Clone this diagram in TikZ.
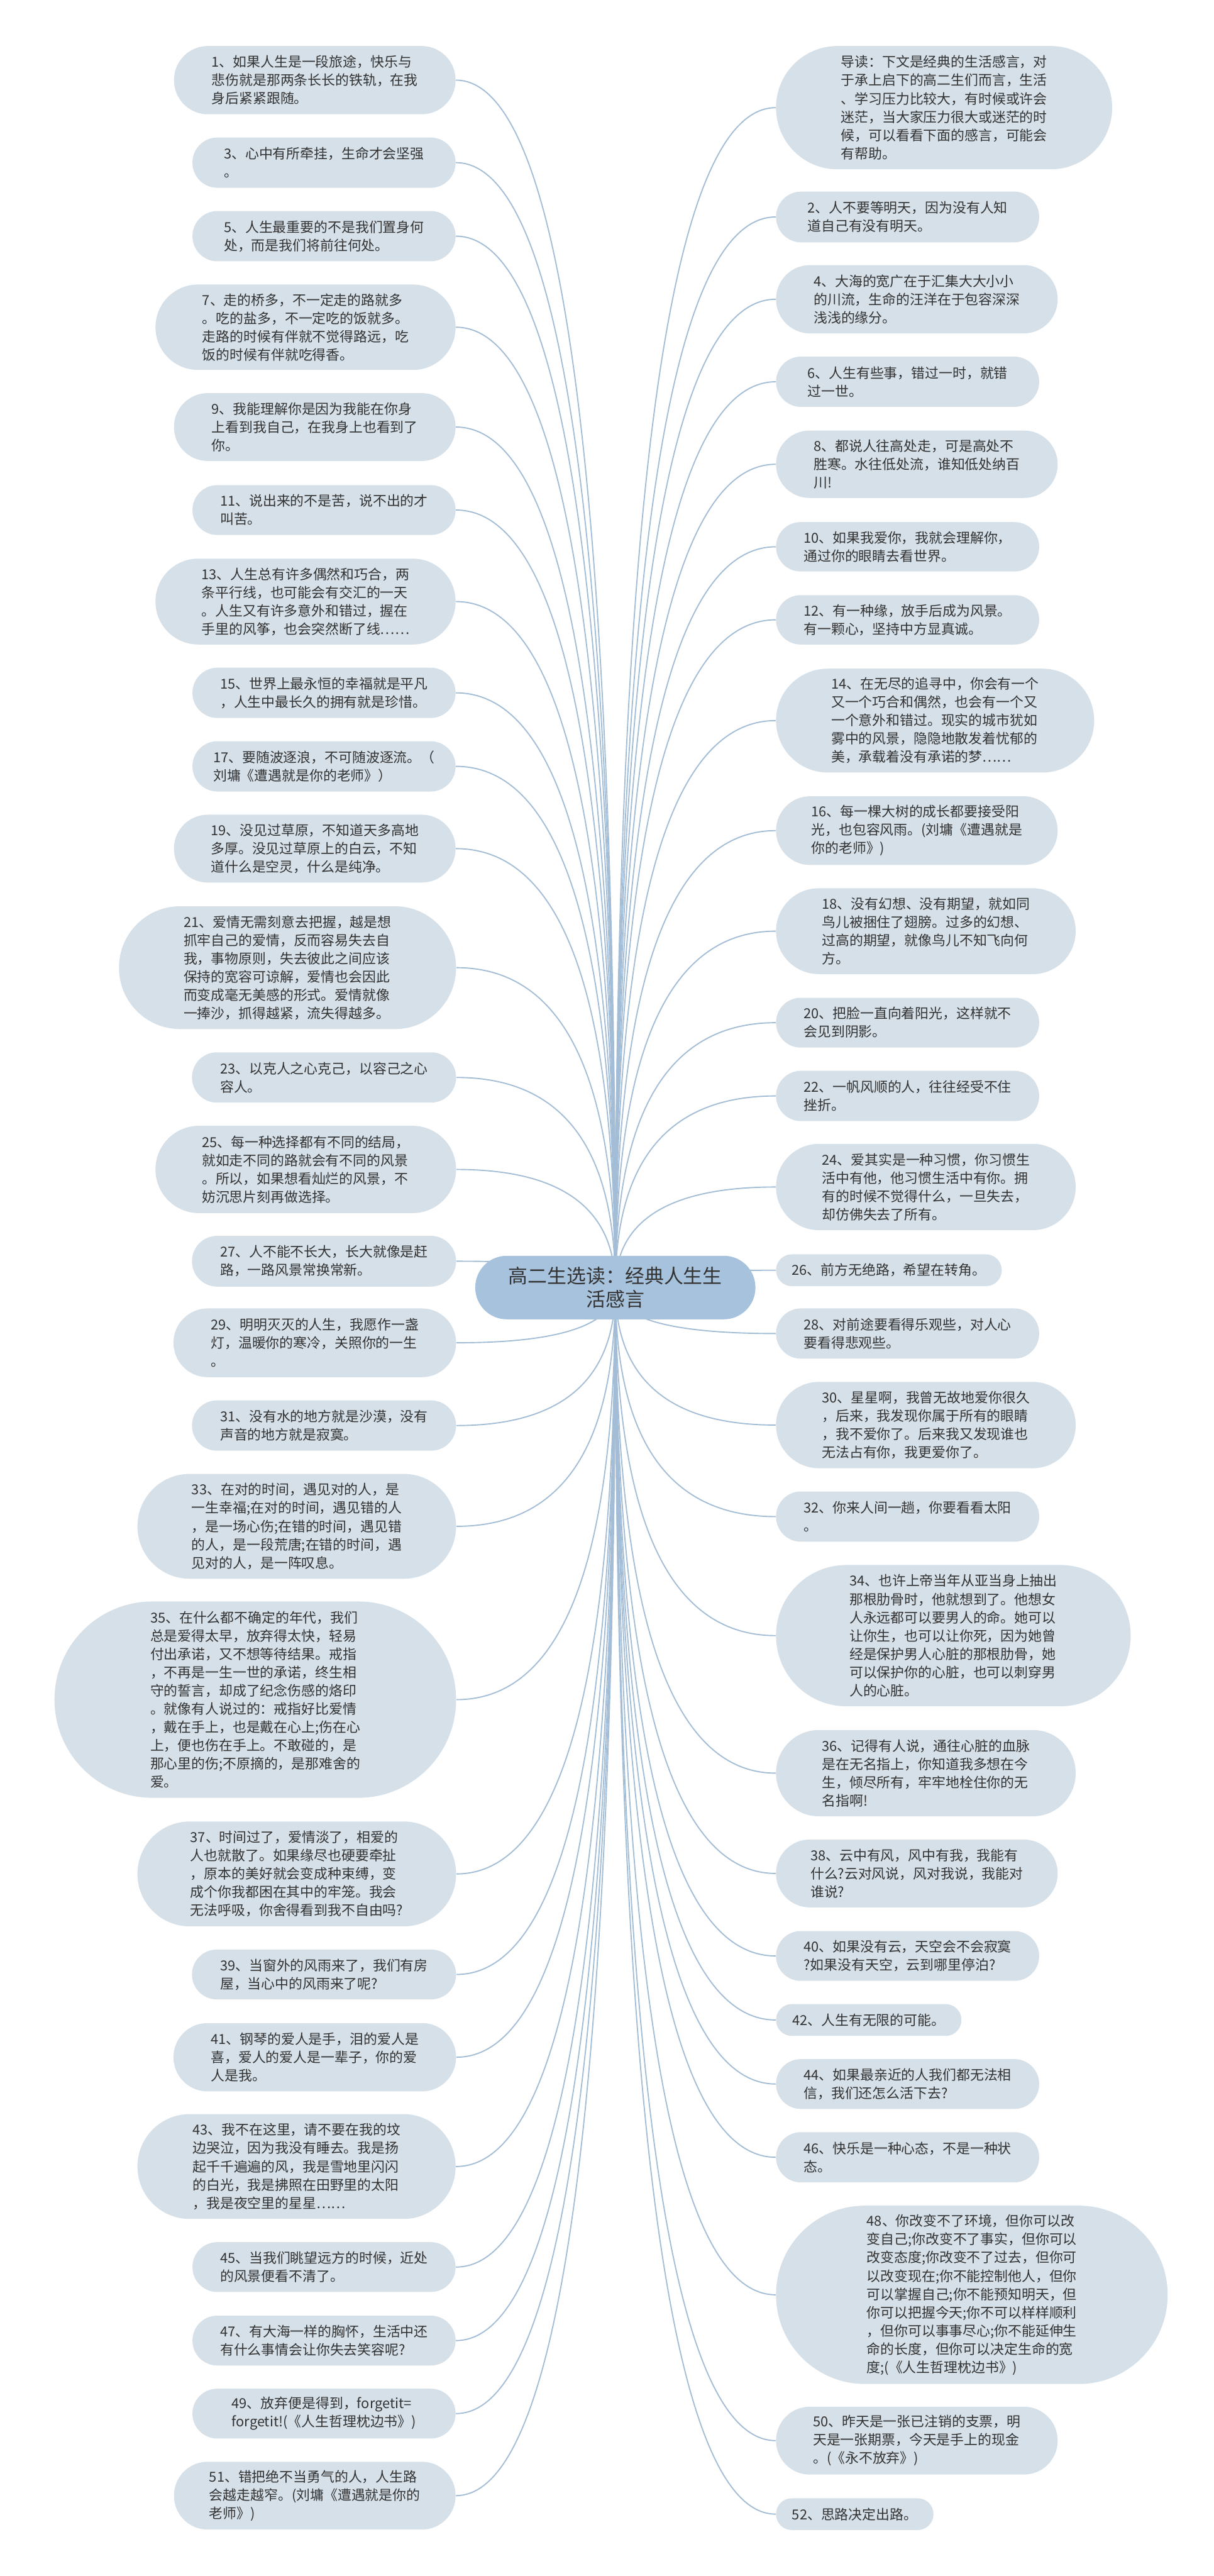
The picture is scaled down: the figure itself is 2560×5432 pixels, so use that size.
\documentclass[tikz,border=0pt]{standalone}
\usepackage{fontspec}
\newfontfamily\cjk{Noto Sans CJK SC}
\usetikzlibrary{backgrounds}
\definecolor{leaffill}{HTML}{D5E0E9}
\definecolor{rootfill}{HTML}{A7C2DD}
\definecolor{conncol}{HTML}{A3BDD6}
\definecolor{txtcol}{HTML}{333333}
\tikzset{
  leaf/.style={fill=leaffill, draw=none, inner sep=0pt, align=left, text=txtcol,
    font={\cjk\fontsize{8.7}{11.55}\selectfont}},
  rootbox/.style={fill=rootfill, draw=none, inner sep=0pt, align=center, text=txtcol,
    font={\cjk\fontsize{12.3}{15}\selectfont}},
  conn/.style={draw=conncol, line width=0.75pt}
}
\newcommand\leafbox[6]{%
  \pgfmathsetmacro\lbx{(#2+#4)/2}%
  \pgfmathsetmacro\lby{(#3+#5)/2}%
  \pgfmathsetmacro\lbw{(#4-#2)*0.3}%
  \pgfmathsetmacro\lbh{(#5-#3)*0.3}%
  \pgfmathsetmacro\lbr{(#5-#3)*0.15-0.1}%
  \node[leaf, minimum width=\lbw pt, minimum height=\lbh pt, rounded corners=\lbr pt] (#1) at (\lbx,\lby) {#6};%
}
\newcommand\conn[3]{%
  \pgfmathsetmacro\cpay{2715+0.6667*(#3-2715)}%
  \pgfmathsetmacro\cpbx{#2+0.6667*(1298-#2)}%
  \draw[conn] (root.center) .. controls (1298,\cpay) and (\cpbx,#3) .. (#1);%
}
\begin{document}
\begin{tikzpicture}[x=0.3pt,y=-0.3pt]
\useasboundingbox (0,0) rectangle (2560,5432);

\node[rootbox, minimum width=177.3pt, minimum height=40.2pt, rounded corners=20pt] (root) at (1298,2715) {高二生选读：经典人生生\\活感言};

% left column
\leafbox{n1}{367}{97}{961}{241}{1、如果人生是一段旅途，快乐与\\悲伤就是那两条长长的铁轨，在我\\身后紧紧跟随。}
\leafbox{n3}{406}{290}{961}{396}{3、心中有所牵挂，生命才会坚强\\。}
\leafbox{n5}{406}{445}{961}{551}{5、人生最重要的不是我们置身何\\处，而是我们将前往何处。}
\leafbox{n7}{328}{600}{961}{780}{7、走的桥多，不一定走的路就多\\。吃的盐多，不一定吃的饭就多。\\走路的时候有伴就不觉得路远，吃\\饭的时候有伴就吃得香。}
\leafbox{n9}{367}{829}{961}{972}{9、我能理解你是因为我能在你身\\上看到我自己，在我身上也看到了\\你。}
\leafbox{n11}{406}{1023}{961}{1128}{11、说出来的不是苦，说不出的才\\叫苦。}
\leafbox{n13}{328}{1178}{961}{1359}{13、人生总有许多偶然和巧合，两\\条平行线，也可能会有交汇的一天\\。人生又有许多意外和错过，握在\\手里的风筝，也会突然断了线……}
\leafbox{n15}{406}{1408}{961}{1514}{15、世界上最永恒的幸福就是平凡\\，人生中最长久的拥有就是珍惜。}
\leafbox{n17}{406}{1563}{961}{1669}{17、要随波逐浪，不可随波逐流。（\\刘墉《遭遇就是你的老师》）}
\leafbox{n19}{367}{1718}{961}{1861}{19、没见过草原，不知道天多高地\\多厚。没见过草原上的白云，不知\\道什么是空灵，什么是纯净。}
\leafbox{n21}{251}{1911}{962}{2170}{21、爱情无需刻意去把握，越是想\\抓牢自己的爱情，反而容易失去自\\我，事物原则，失去彼此之间应该\\保持的宽容可谅解，爱情也会因此\\而变成毫无美感的形式。爱情就像\\一捧沙，抓得越紧，流失得越多。}
\leafbox{n23}{405}{2219}{962}{2325}{23、以克人之心克己，以容己之心\\容人。}
\leafbox{n25}{328}{2374}{962}{2558}{25、每一种选择都有不同的结局，\\就如走不同的路就会有不同的风景\\。所以，如果想看灿烂的风景，不\\妨沉思片刻再做选择。}
\leafbox{n27}{405}{2606}{962}{2713}{27、人不能不长大，长大就像是赶\\路，一路风景常换常新。}
\leafbox{n29}{366}{2759}{962}{2904}{29、明明灭灭的人生，我愿作一盏\\灯，温暖你的寒冷，关照你的一生\\。}
\leafbox{n31}{405}{2953}{962}{3059}{31、没有水的地方就是沙漠，没有\\声音的地方就是寂寞。}
\leafbox{n33}{290}{3108}{962}{3329}{33、在对的时间，遇见对的人，是\\一生幸福;在对的时间，遇见错的人\\，是一场心伤;在错的时间，遇见错\\的人，是一段荒唐;在错的时间，遇\\见对的人，是一阵叹息。}
\leafbox{n35}{115}{3377}{962}{3791}{35、在什么都不确定的年代，我们\\总是爱得太早，放弃得太快，轻易\\付出承诺，又不想等待结果。戒指\\，不再是一生一世的承诺，终生相\\守的誓言，却成了纪念伤感的烙印\\。就像有人说过的：戒指好比爱情\\，戴在手上，也是戴在心上;伤在心\\上，便也伤在手上。不敢碰的，是\\那心里的伤;不原摘的，是那难舍的\\爱。}
\leafbox{n37}{290}{3841}{962}{4062}{37、时间过了，爱情淡了，相爱的\\人也就散了。如果缘尽也硬要牵扯\\，原本的美好就会变成种束缚，变\\成个你我都困在其中的牢笼。我会\\无法呼吸，你舍得看到我不自由吗?}
\leafbox{n39}{405}{4111}{962}{4216}{39、当窗外的风雨来了，我们有房\\屋，当心中的风雨来了呢?}
\leafbox{n41}{366}{4266}{962}{4410}{41、钢琴的爱人是手，泪的爱人是\\喜，爱人的爱人是一辈子，你的爱\\人是我。}
\leafbox{n43}{290}{4458}{961}{4679}{43、我不在这里，请不要在我的坟\\边哭泣，因为我没有睡去。我是扬\\起千千遍遍的风，我是雪地里闪闪\\的白光，我是拂照在田野里的太阳\\，我是夜空里的星星……}
\leafbox{n45}{406}{4728}{961}{4833}{45、当我们眺望远方的时候，近处\\的风景便看不清了。}
\leafbox{n47}{406}{4883}{961}{4988}{47、有大海一样的胸怀，生活中还\\有什么事情会让你失去笑容呢?}
\leafbox{n49}{406}{5037}{961}{5142}{49、放弃便是得到，forgetit=\\forgetit!(《人生哲理枕边书》)}
\leafbox{n51}{367}{5191}{961}{5334}{51、错把绝不当勇气的人，人生路\\会越走越窄。(刘墉《遭遇就是你的\\老师》)}

% right column
\leafbox{intro}{1637}{97}{2346}{357}{导读：下文是经典的生活感言，对\\于承上启下的高二生们而言，生活\\、学习压力比较大，有时候或许会\\迷茫，当大家压力很大或迷茫的时\\候，可以看看下面的感言，可能会\\有帮助。}
\leafbox{n2}{1637}{404}{2192}{511}{2、人不要等明天，因为没有人知\\道自己有没有明天。}
\leafbox{n4}{1637}{559}{2231}{703}{4、大海的宽广在于汇集大大小小\\的川流，生命的汪洋在于包容深深\\浅浅的缘分。}
\leafbox{n6}{1637}{752}{2192}{858}{6、人生有些事，错过一时，就错\\过一世。}
\leafbox{n8}{1637}{908}{2231}{1050}{8、都说人往高处走，可是高处不\\胜寒。水往低处流，谁知低处纳百\\川!}
\leafbox{n10}{1637}{1101}{2192}{1205}{10、如果我爱你，我就会理解你，\\通过你的眼睛去看世界。}
\leafbox{n12}{1637}{1255}{2192}{1359}{12、有一种缘，放手后成为风景。\\有一颗心，坚持中方显真诚。}
\leafbox{n14}{1637}{1410}{2308}{1629}{14、在无尽的追寻中，你会有一个\\又一个巧合和偶然，也会有一个又\\一个意外和错过。现实的城市犹如\\雾中的风景，隐隐地散发着忧郁的\\美，承载着没有承诺的梦……}
\leafbox{n16}{1637}{1679}{2231}{1824}{16、每一棵大树的成长都要接受阳\\光，也包容风雨。(刘墉《遭遇就是\\你的老师》)}
\leafbox{n18}{1637}{1873}{2269}{2054}{18、没有幻想、没有期望，就如同\\鸟儿被捆住了翅膀。过多的幻想、\\过高的期望，就像鸟儿不知飞向何\\方。}
\leafbox{n20}{1637}{2104}{2192}{2209}{20、把脸一直向着阳光，这样就不\\会见到阴影。}
\leafbox{n22}{1637}{2258}{2192}{2364}{22、一帆风顺的人，往往经受不住\\挫折。}
\leafbox{n24}{1637}{2412}{2269}{2594}{24、爱其实是一种习惯，你习惯生\\活中有他，他习惯生活中有你。拥\\有的时候不觉得什么，一旦失去，\\却仿佛失去了所有。}
\leafbox{n26}{1637}{2645}{2113}{2712}{26、前方无绝路，希望在转角。}
\leafbox{n28}{1637}{2759}{2192}{2865}{28、对前途要看得乐观些，对人心\\要看得悲观些。}
\leafbox{n30}{1637}{2914}{2269}{3096}{30、星星啊，我曾无故地爱你很久\\，后来，我发现你属于所有的眼睛\\，我不爱你了。后来我又发现谁也\\无法占有你，我更爱你了。}
\leafbox{n32}{1637}{3145}{2192}{3251}{32、你来人间一趟，你要看看太阳\\。}
\leafbox{n34}{1637}{3300}{2385}{3598}{34、也许上帝当年从亚当身上抽出\\那根肋骨时，他就想到了。他想女\\人永远都可以要男人的命。她可以\\让你生，也可以让你死，因为她曾\\经是保护男人心脏的那根肋骨，她\\可以保护你的心脏，也可以刺穿男\\人的心脏。}
\leafbox{n36}{1637}{3648}{2269}{3830}{36、记得有人说，通往心脏的血脉\\是在无名指上，你知道我多想在今\\生，倾尽所有，牢牢地栓住你的无\\名指啊!}
\leafbox{n38}{1637}{3879}{2231}{4022}{38、云中有风，风中有我，我能有\\什么?云对风说，风对我说，我能对\\谁说?}
\leafbox{n40}{1637}{4072}{2192}{4177}{40、如果没有云，天空会不会寂寞\\?如果没有天空，云到哪里停泊?}
\leafbox{n42}{1637}{4226}{2028}{4293}{42、人生有无限的可能。}
\leafbox{n44}{1637}{4342}{2192}{4447}{44、如果最亲近的人我们都无法相\\信，我们还怎么活下去?}
\leafbox{n46}{1637}{4496}{2192}{4602}{46、快乐是一种心态，不是一种状\\态。}
\leafbox{n48}{1637}{4651}{2463}{5027}{48、你改变不了环境，但你可以改\\变自己;你改变不了事实，但你可以\\改变态度;你改变不了过去，但你可\\以改变现在;你不能控制他人，但你\\可以掌握自己;你不能预知明天，但\\你可以把握今天;你不可以样样顺利\\，但你可以事事尽心;你不能延伸生\\命的长度，但你可以决定生命的宽\\度;(《人生哲理枕边书》)}
\leafbox{n50}{1637}{5075}{2231}{5218}{50、昨天是一张已注销的支票，明\\天是一张期票，今天是手上的现金\\。(《永不放弃》)}
\leafbox{n52}{1637}{5268}{1969}{5335}{52、思路决定出路。}

\begin{scope}[on background layer]
\fill[white] (0,0) rectangle (2560,5432);
\conn{n1.east}{962}{169}
\conn{n3.east}{961}{343}
\conn{n5.east}{961}{498}
\conn{n7.east}{961}{690}
\conn{n9.east}{961}{900.5}
\conn{n11.east}{961}{1075.5}
\conn{n13.east}{961}{1268.5}
\conn{n15.east}{961}{1461}
\conn{n17.east}{961}{1616}
\conn{n19.east}{961}{1789.5}
\conn{n21.east}{962}{2040.5}
\conn{n23.east}{962}{2272}
\conn{n25.east}{962}{2466}
\conn{n27.east}{962}{2659.5}
\conn{n29.east}{962}{2831.5}
\conn{n31.east}{962}{3006}
\conn{n33.east}{962}{3218.5}
\conn{n35.east}{962}{3584}
\conn{n37.east}{962}{3951.5}
\conn{n39.east}{962}{4163.5}
\conn{n41.east}{962}{4338}
\conn{n43.east}{961}{4568.5}
\conn{n45.east}{961}{4780.5}
\conn{n47.east}{961}{4935.5}
\conn{n49.east}{961}{5089.5}
\conn{n51.east}{961}{5262.5}
\conn{intro.west}{1637}{227}
\conn{n2.west}{1637}{457.5}
\conn{n4.west}{1637}{631}
\conn{n6.west}{1637}{805}
\conn{n8.west}{1637}{979}
\conn{n10.west}{1637}{1153}
\conn{n12.west}{1637}{1307}
\conn{n14.west}{1637}{1519.5}
\conn{n16.west}{1637}{1751.5}
\conn{n18.west}{1637}{1963.5}
\conn{n20.west}{1637}{2156.5}
\conn{n22.west}{1637}{2311}
\conn{n24.west}{1637}{2503}
\conn{n26.west}{1637}{2678.5}
\conn{n28.west}{1637}{2812}
\conn{n30.west}{1637}{3005}
\conn{n32.west}{1637}{3198}
\conn{n34.west}{1637}{3449}
\conn{n36.west}{1637}{3739}
\conn{n38.west}{1637}{3950.5}
\conn{n40.west}{1637}{4124.5}
\conn{n42.west}{1637}{4259.5}
\conn{n44.west}{1637}{4394.5}
\conn{n46.west}{1637}{4549}
\conn{n48.west}{1637}{4839}
\conn{n50.west}{1637}{5146.5}
\conn{n52.west}{1637}{5301.5}
\end{scope}
\end{tikzpicture}
\end{document}
